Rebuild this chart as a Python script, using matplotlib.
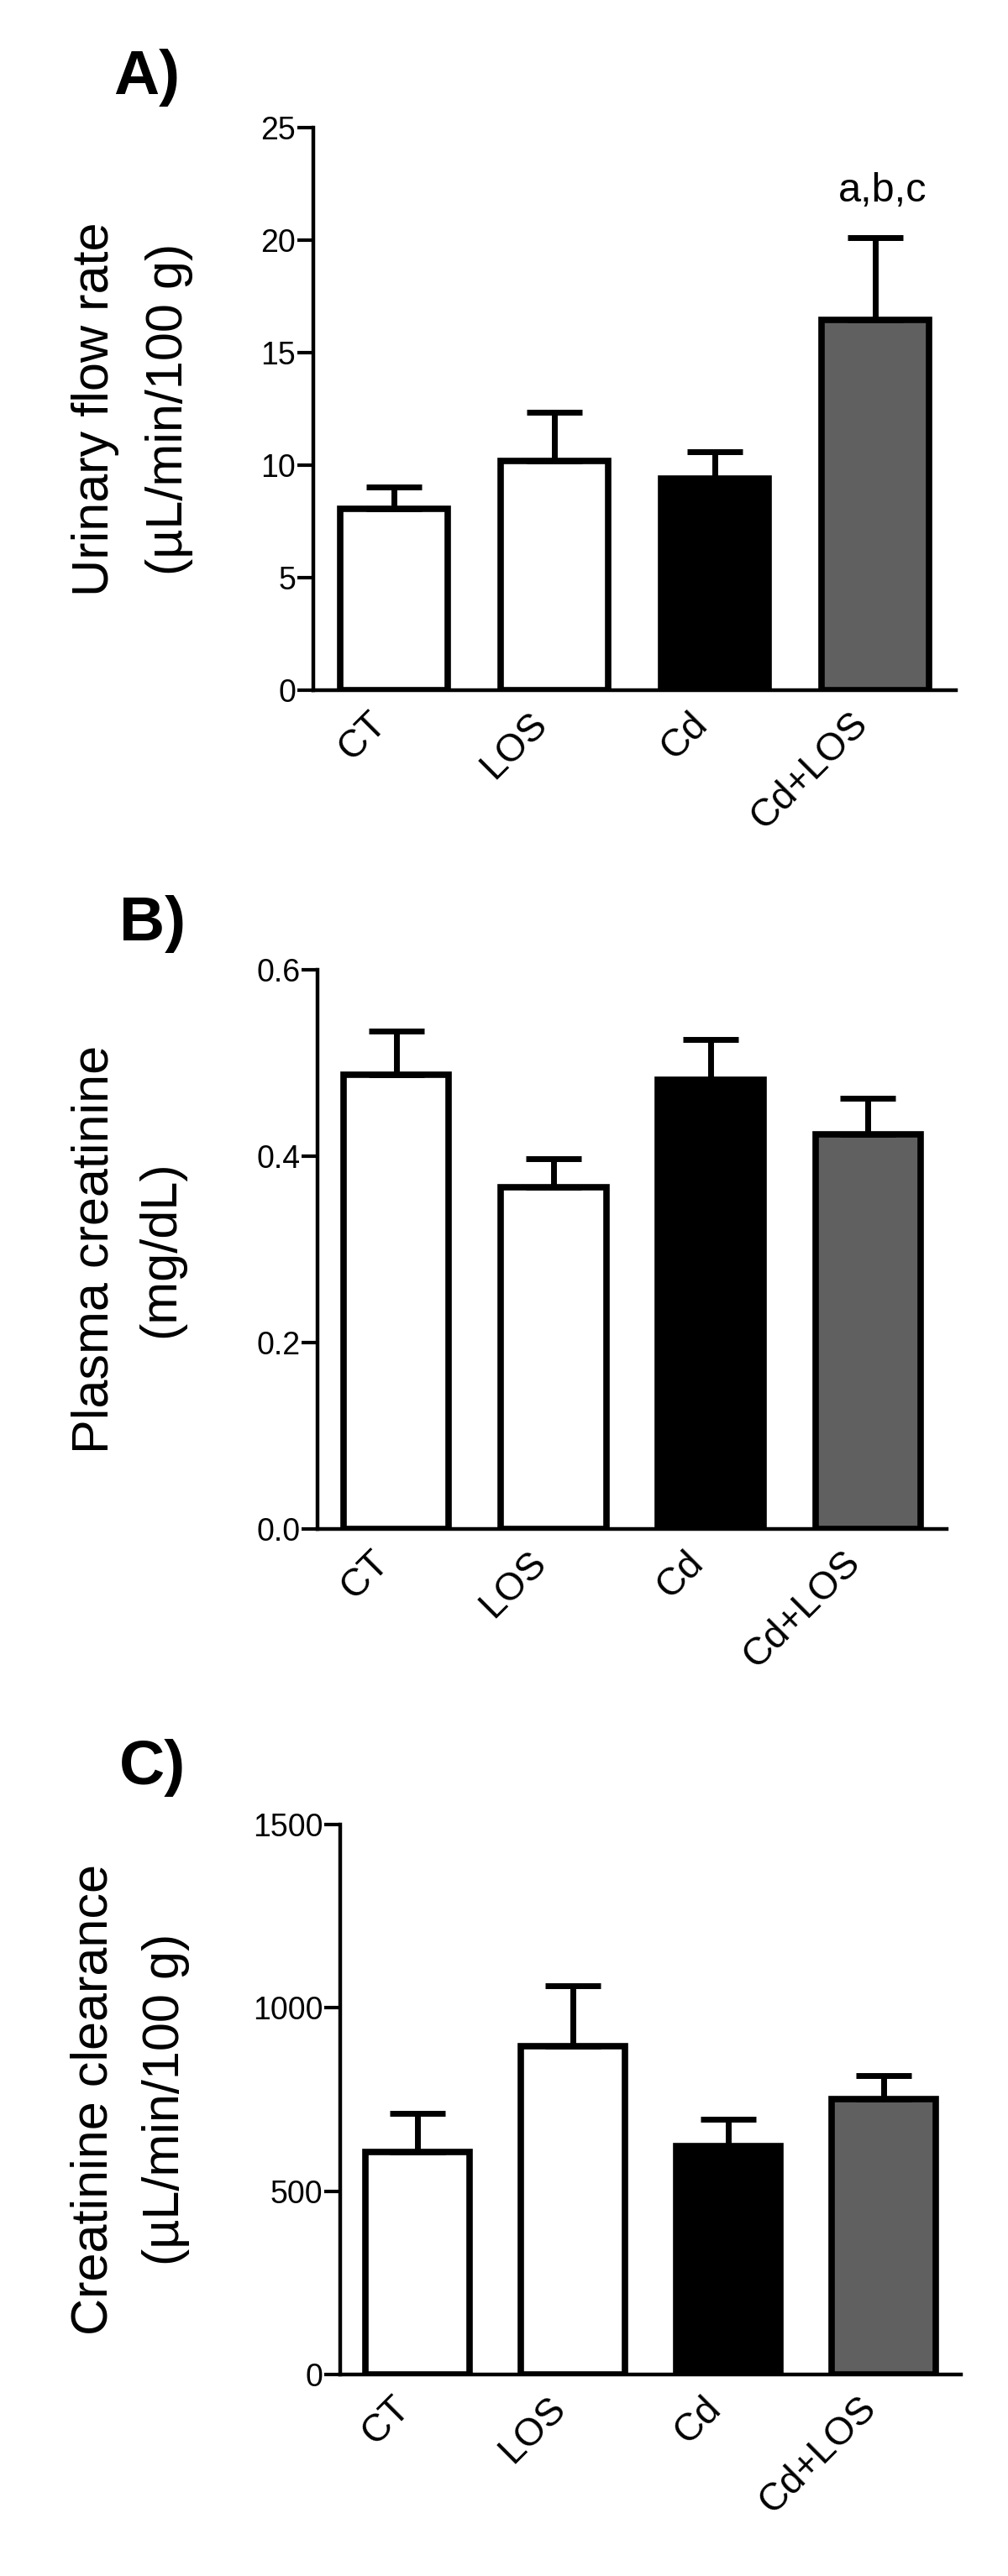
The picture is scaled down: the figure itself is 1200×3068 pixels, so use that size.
import matplotlib
matplotlib.use('Agg')
import matplotlib.pyplot as plt
from matplotlib.transforms import ScaledTranslation

plt.rcParams['font.family'] = ['Liberation Sans', 'DejaVu Sans']

groups = ['CT', 'LOS', 'Cd', 'Cd+LOS']
bar_colors = ['white', 'white', 'black', '#606060']

flow_mean = [8.05, 10.2, 9.4, 16.45]
flow_sem = [0.97, 2.15, 1.18, 3.65]

pcr_mean = [0.487, 0.367, 0.482, 0.423]
pcr_sem = [0.047, 0.030, 0.043, 0.039]

ccl_mean = [606, 896, 624, 752]
ccl_sem = [107, 165, 73, 63]

flow_ticks = [0, 5, 10, 15, 20, 25]
pcr_ticks = [0.0, 0.2, 0.4, 0.6]
ccl_ticks = [0, 500, 1000, 1500]

W, H = 1200, 3068
fig = plt.figure(figsize=(W / 100, H / 100), dpi=100)


def px_axes(l, t, r, b):
    return fig.add_axes([l / W, 1 - b / H, (r - l) / W, (b - t) / H])


def fx(x):
    return x / W


def fy(y):
    return 1 - y / H


panels = [
    dict(rect=(373, 152, 1138, 822), mean=flow_mean, sem=flow_sem, ticks=flow_ticks,
         fmt='{:d}', letter='A)', letter_xy=(135, 112),
         l1='Urinary flow rate', l2='(\u00b5L/min/100 g)', l1x=113, l2x=201,
         note='a,b,c', note_y=228),
    dict(rect=(378, 1155, 1127, 1821), mean=pcr_mean, sem=pcr_sem, ticks=pcr_ticks,
         fmt='{:.1f}', letter='B)', letter_xy=(142, 1120),
         l1='Plasma creatinine', l2='(mg/dL)', l1x=113, l2x=192,
         note=None, note_y=None),
    dict(rect=(405, 2173, 1144, 2828), mean=ccl_mean, sem=ccl_sem, ticks=ccl_ticks,
         fmt='{:d}', letter='C)', letter_xy=(142, 2125),
         l1='Creatinine clearance', l2='(\u00b5L/min/100 g)', l1x=112, l2x=198,
         note=None, note_y=None),
]

x = list(range(len(groups)))

for p in panels:
    l, t, r, b = p['rect']
    ax = px_axes(l, t, r, b)
    ax.errorbar(x, p['mean'], yerr=[[0] * 4, p['sem']], fmt='none', ecolor='black',
                elinewidth=5, capsize=24, capthick=5, zorder=3)
    ax.bar(x, p['mean'], width=0.67, color=bar_colors, edgecolor='black',
           linewidth=5.5, zorder=2)
    ax.set_xlim(-0.5, 3.5)
    ax.set_ylim(p['ticks'][0], p['ticks'][-1])
    ax.set_yticks(p['ticks'])
    ax.set_yticklabels([p['fmt'].format(v) for v in p['ticks']], fontsize=27)
    ax.set_xticks(x)
    ax.set_xticklabels(groups, rotation=45, ha='right', va='top', fontsize=33)
    off = ScaledTranslation(28 / 100, 0, fig.dpi_scale_trans)
    for lab in ax.get_xticklabels():
        lab.set_transform(lab.get_transform() + off)
    ax.tick_params(axis='y', length=14, width=3, pad=1, direction='out')
    ax.tick_params(axis='x', length=0, pad=13)
    for s in ['top', 'right']:
        ax.spines[s].set_visible(False)
    for s in ['left', 'bottom']:
        ax.spines[s].set_linewidth(3.2)
    ax.patch.set_visible(False)

    cy = (t + b) / 2
    fig.text(fx(p['l1x']), fy(cy), p['l1'], rotation=90, ha='center', va='center',
             fontsize=44)
    fig.text(fx(p['l2x']), fy(cy), p['l2'], rotation=90, ha='center', va='center',
             fontsize=44)
    lx, ly = p['letter_xy']
    fig.text(fx(lx), fy(ly), p['letter'], ha='left', va='baseline', fontsize=54,
             fontweight='bold')
    if p['note']:
        xc = l + (r - l) * (3 + 0.5) / 4.0
        fig.text(fx(xc + 8), fy(p['note_y']), p['note'], ha='center', va='center',
                 fontsize=35)

fig.savefig('out.png', dpi=100, facecolor='white')
